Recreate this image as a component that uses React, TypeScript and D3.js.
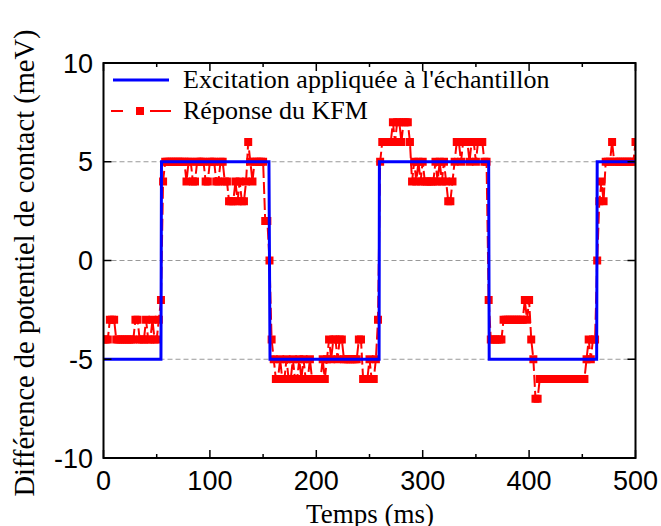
import React from 'react';
import * as d3 from 'd3';

const xDomain = [0, 500];
const yDomain = [-10, 10];
const xMajorTicks = [0, 100, 200, 300, 400, 500];
const xMinorTicks = [50, 150, 250, 350, 450];
const yMajorTicks = [-10, -5, 0, 5, 10];
const gridLevels = [-5, 0, 5];

// Excitation (square wave applied to the sample)
const excitationTimes = [0, 54, 54.5, 155.5, 156.5, 259, 259.3, 362, 362.5, 463.5, 464, 500];
const excitationValues = [-5, -5, 5, 5, -5, -5, 5, 5, -5, -5, 5, 5];

// KFM response, one sample every 2 ms (t = 0 .. 500 ms)
const kfmSampleStep = 2;
const kfmValues = [
  -4, -4, -4, -3, -3, -3, -4, -4, -4, -4,
  -4, -4, -4, -4, -4, -3, -3, -4, -4, -4,
  -3, -4, -4, -3, -4, -4, -3, -2, 4, 5,
  5, 5, 5, 5, 5, 5, 5, 5, 5, 4,
  5, 5, 4, 4, 5, 5, 5, 5, 4, 4,
  5, 5, 5, 4, 4, 5, 5, 4, 4, 3,
  3, 3, 4, 3, 4, 3, 3, 4, 6, 5,
  4, 5, 5, 5, 5, 5, 2, 2, 0, -4,
  -5, -6, -6, -5, -6, -6, -5, -6, -6, -5,
  -6, -6, -5, -6, -5, -6, -6, -5, -6, -6,
  -6, -6, -6, -5, -6, -5, -4, -5, -4, -4,
  -5, -4, -4, -5, -5, -5, -5, -5, -5, -5,
  -4, -4, -6, -6, -6, -5, -6, -6, -5, -3,
  5, 6, 6, 6, 6, 6, 7, 6, 7, 7,
  6, 7, 7, 7, 6, 4, 5, 4, 5, 4,
  5, 4, 4, 4, 4, 4, 5, 4, 5, 4,
  5, 4, 3, 3, 4, 5, 6, 6, 5, 6,
  6, 6, 5, 6, 6, 5, 6, 6, 6, 5,
  5, -2, -4, -4, -4, -4, -4, -4, -3, -3,
  -3, -3, -3, -3, -3, -3, -3, -3, -2, -3,
  -2, -4, -5, -7, -7, -6, -6, -6, -6, -6,
  -6, -6, -6, -6, -6, -6, -6, -6, -6, -6,
  -6, -6, -6, -6, -6, -6, -6, -5, -4, -5,
  -4, -4, 0, 3, 4, 3, 5, 5, 5, 6,
  5, 5, 5, 5, 5, 5, 5, 5, 5, 5,
  6,
];

const seriesNames = ["Excitation appliquée à l'échantillon", 'Réponse du KFM'];
const xTitle = 'Temps (ms)';
const yTitle = 'Différence de potentiel de contact (meV)';

const W = 661;
const H = 526;
const plot = { left: 103.5, right: 635.5, top: 63, bottom: 458 };
const sansFont = "'Liberation Sans', Arial, sans-serif";
const serifFont = "'Liberation Serif', 'Times New Roman', serif";

export default function App() {
  const x = d3.scaleLinear().domain(xDomain).range([plot.left, plot.right]);
  const y = d3.scaleLinear().domain(yDomain).range([plot.bottom, plot.top]);

  const kfmPoints: [number, number][] = kfmValues.map((v, i) => [i * kfmSampleStep, v]);
  const excitationPoints: [number, number][] = excitationTimes.map((t, i) => [t, excitationValues[i]]);

  const line = d3
    .line<[number, number]>()
    .x((d) => x(d[0]))
    .y((d) => y(d[1]));

  const ms = 8;
  const majorLen = 8;
  const minorLen = 4;

  return (
    <svg
      width={W}
      height={H}
      style={{ position: 'absolute', left: 0, top: 0, background: '#fff' }}
    >
      <defs>
        <clipPath id="plotClip">
          <rect x={plot.left} y={plot.top} width={plot.right - plot.left} height={plot.bottom - plot.top} />
        </clipPath>
      </defs>
      <rect x={0} y={0} width={W} height={H} fill="#fff" />

      {/* grid */}
      {gridLevels.map((g) => (
        <line
          key={'g' + g}
          x1={plot.left + majorLen}
          x2={plot.right}
          y1={y(g)}
          y2={y(g)}
          stroke="#999"
          strokeWidth={1}
          strokeDasharray="5,3"
        />
      ))}

      <g clipPath="url(#plotClip)">
        {/* KFM response */}
        <path
          d={line(kfmPoints) || ''}
          fill="none"
          stroke="#ff0000"
          strokeWidth={2}
          strokeDasharray="12,4"
        />
        {kfmPoints.map((d, i) => (
          <rect
            key={'m' + i}
            x={x(d[0]) - ms / 2}
            y={y(d[1]) - ms / 2}
            width={ms}
            height={ms}
            fill="#ff0000"
          />
        ))}
        {/* excitation */}
        <path d={line(excitationPoints) || ''} fill="none" stroke="#0000ff" strokeWidth={3} />
      </g>

      {/* frame */}
      <rect
        x={plot.left}
        y={plot.top}
        width={plot.right - plot.left}
        height={plot.bottom - plot.top}
        fill="none"
        stroke="#000"
        strokeWidth={2}
      />

      {/* x ticks */}
      {xMajorTicks.map((t) => (
        <g key={'xt' + t}>
          <line x1={x(t)} x2={x(t)} y1={plot.bottom} y2={plot.bottom - majorLen} stroke="#000" strokeWidth={1.5} />
          <line x1={x(t)} x2={x(t)} y1={plot.top} y2={plot.top + majorLen} stroke="#000" strokeWidth={1.5} />
          <text
            x={x(t)}
            y={490}
            textAnchor="middle"
            fontFamily={sansFont}
            fontSize={27}
            fill="#000"
          >
            {t}
          </text>
        </g>
      ))}
      {xMinorTicks.map((t) => (
        <g key={'xm' + t}>
          <line x1={x(t)} x2={x(t)} y1={plot.bottom} y2={plot.bottom - minorLen} stroke="#000" strokeWidth={1.5} />
          <line x1={x(t)} x2={x(t)} y1={plot.top} y2={plot.top + minorLen} stroke="#000" strokeWidth={1.5} />
        </g>
      ))}

      {/* y ticks */}
      {yMajorTicks.map((v) => (
        <g key={'yt' + v}>
          <line x1={plot.left} x2={plot.left + majorLen} y1={y(v)} y2={y(v)} stroke="#000" strokeWidth={1.5} />
          <line x1={plot.right} x2={plot.right - majorLen} y1={y(v)} y2={y(v)} stroke="#000" strokeWidth={1.5} />
          <text
            x={93}
            y={y(v) + 9.5}
            textAnchor="end"
            fontFamily={sansFont}
            fontSize={27}
            fill="#000"
          >
            {v}
          </text>
        </g>
      ))}

      {/* axis titles */}
      <text x={370} y={523} textAnchor="middle" fontFamily={serifFont} fontSize={27} fill="#000">
        {xTitle}
      </text>
      <text
        transform={`translate(34, 263) rotate(-90)`}
        textAnchor="middle"
        fontFamily={serifFont}
        fontSize={28.5}
        fill="#000"
      >
        {yTitle}
      </text>

      {/* legend */}
      <line x1={113} x2={169} y1={80} y2={80} stroke="#0000ff" strokeWidth={3} />
      <text x={183} y={88} fontFamily={serifFont} fontSize={26} fill="#000">
        {seriesNames[0]}
      </text>
      <line x1={111} x2={123} y1={111} y2={111} stroke="#ff0000" strokeWidth={2} />
      <line x1={150} x2={171} y1={111} y2={111} stroke="#ff0000" strokeWidth={2} />
      <rect x={136} y={107} width={8} height={8} fill="#ff0000" />
      <text x={183} y={119} fontFamily={serifFont} fontSize={26} fill="#000">
        {seriesNames[1]}
      </text>
    </svg>
  );
}
